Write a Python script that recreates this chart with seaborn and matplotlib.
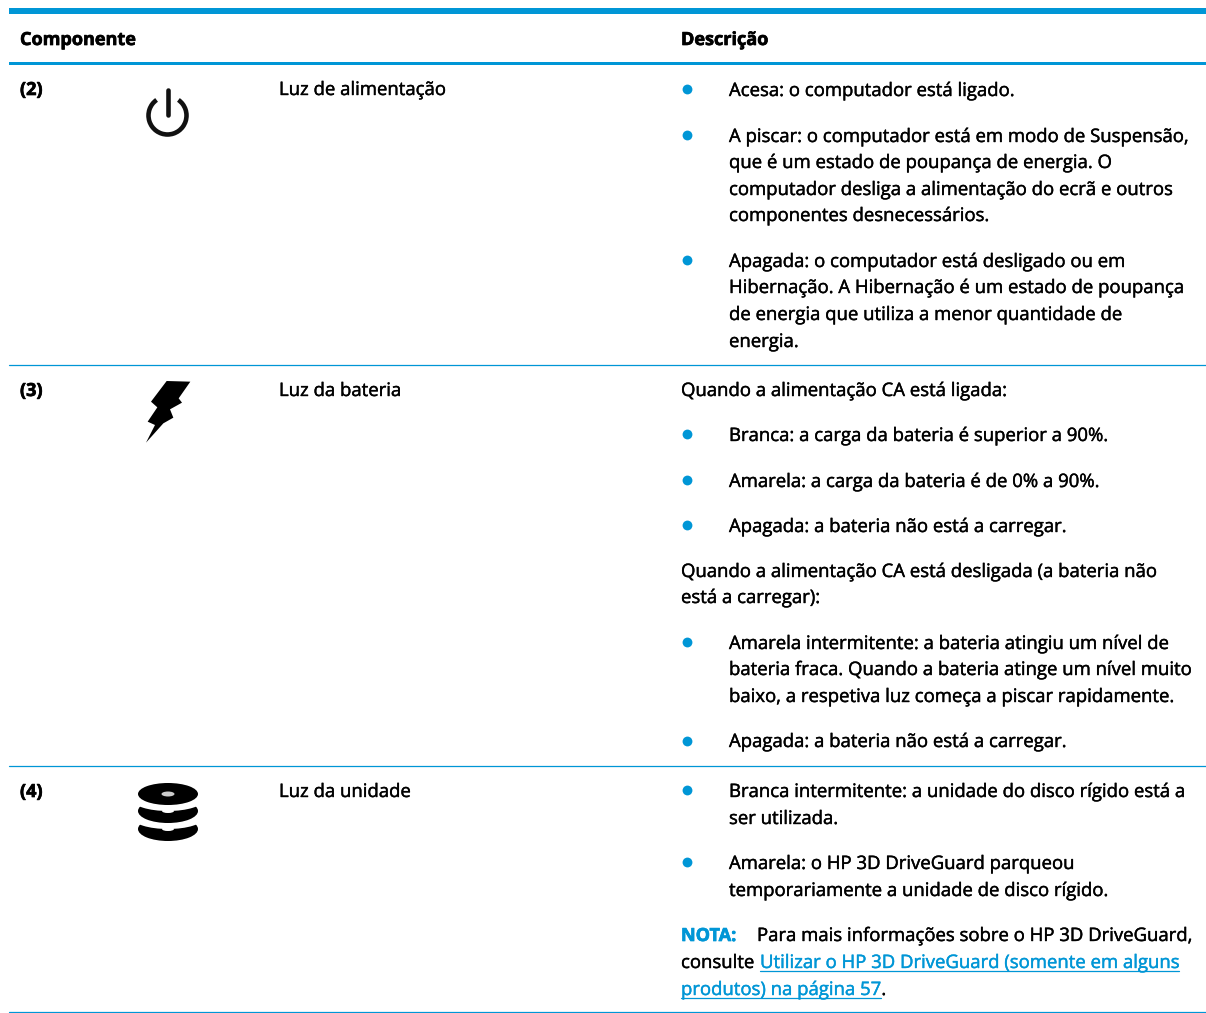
import matplotlib
matplotlib.use("Agg")
import matplotlib.patheffects as pe
import matplotlib.pyplot as plt
import pandas as pd
import seaborn as sns
from matplotlib.patches import Arc, Ellipse, Polygon

BLUE = "#0096D6"
FONT = "Open Sans"
FONT_SIZE = 13.35
BOLD_SIZE = 13.0

headers = ["Componente", "Descrição"]
row_numbers = ["(2)", "(3)", "(4)"]
components = ["Luz de alimentação", "Luz da bateria", "Luz da unidade"]

# text lines of the description column, (baseline, text)
bullet_lines = [
    (96, "Acesa: o computador está ligado."),
    (142, "A piscar: o computador está em modo de Suspensão,"),
    (168, "que é um estado de poupança de energia. O"),
    (195, "computador desliga a alimentação do ecrã e outros"),
    (221, "componentes desnecessários."),
    (267, "Apagada: o computador está desligado ou em"),
    (293, "Hibernação. A Hibernação é um estado de poupança"),
    (320, "de energia que utiliza a menor quantidade de"),
    (347, "energia."),
    (441, "Branca: a carga da bateria é superior a 90%."),
    (487, "Amarela: a carga da bateria é de 0% a 90%."),
    (532, "Apagada: a bateria não está a carregar."),
    (649, "Amarela intermitente: a bateria atingiu um nível de"),
    (675, "bateria fraca. Quando a bateria atinge um nível muito"),
    (702, "baixo, a respetiva luz começa a piscar rapidamente."),
    (747, "Apagada: a bateria não está a carregar."),
    (797, "Branca intermitente: a unidade do disco rígido está a"),
    (824, "ser utilizada."),
    (869, "Amarela: o HP 3D DriveGuard parqueou"),
    (896, "temporariamente a unidade de disco rígido."),
]
plain_lines = [
    (396, "Quando a alimentação CA está ligada:"),
    (577, "Quando a alimentação CA está desligada (a bateria não"),
    (603, "está a carregar):"),
]
bullet_rows = [89, 135, 260, 434, 480, 525, 642, 741, 790, 862]

note_label = "NOTA:"
note_text = "Para mais informações sobre o HP 3D DriveGuard,"
note_prefix = "consulte"
link_lines = ["Utilizar o HP 3D DriveGuard (somente em alguns", "produtos) na página 57"]


def put(ax, x, y, text, color="black", bold=False):
    # thin stroke because the original face is heavier than Open Sans
    stroke = 0.5 if bold else 0.3
    return ax.text(x, y, text, family=FONT, fontsize=BOLD_SIZE if bold else FONT_SIZE,
                   fontweight="bold" if bold else "normal", va="baseline", color=color,
                   path_effects=[pe.withStroke(linewidth=stroke, foreground=color)])


def underlined(ax, fig, x, y, text):
    t = put(ax, x, y, text, color=BLUE)
    box = t.get_window_extent(fig.canvas.get_renderer())
    ax.plot([x, x + box.width], [y + 3, y + 3], color=BLUE, lw=0.9)
    return x + box.width


def draw_icons(ax):
    # power
    ax.add_patch(Arc((167.5, 115.5), 38, 38, theta1=305, theta2=595, color="#111111", lw=3.3))
    ax.plot([167.5, 167.5], [90, 115], color="#111111", lw=3.3, solid_capstyle="round")
    # bolt
    pts = [(140, 33), (211, 35), (176, 85), (186, 98), (150, 118), (160, 143), (130, 160),
           (78, 218), (105, 165), (83, 155), (112, 112), (93, 95)]
    ax.add_patch(Polygon([(120 + a / 3, 370 + b / 3) for a, b in pts], fc="black", ec="none"))
    # disk stack, drawn bottom to top
    for cy in [829, 811]:
        ax.add_patch(Ellipse((168, cy), 60, 24, fc="black", ec="none"))
        ax.add_patch(Ellipse((168, cy - 11), 70, 22, fc="white", ec="none"))
        ax.add_patch(Ellipse((168, cy), 12, 4, fc="white", ec="none"))
    ax.add_patch(Ellipse((168, 794), 60, 22, fc="black", ec="none"))
    ax.add_patch(Ellipse((168, 794), 13, 5, fc="#cccccc", ec="none"))


def main():
    sns.set_theme(style="white")
    fig = plt.figure(figsize=(12.06, 10.13), dpi=100)
    ax = fig.add_axes([0, 0, 1, 1])
    ax.set_xlim(0, 1206)
    ax.set_ylim(1013, 0)
    ax.axis("off")

    # rules
    ax.fill_between([8.5, 1206], 8, 14, color=BLUE, lw=0)
    ax.fill_between([8.5, 1206], 62, 65, color=BLUE, lw=0)
    for y in [364.5, 766, 1012]:
        ax.plot([8.5, 1206], [y, y], color=BLUE, lw=0.9)

    put(ax, 20, 45, headers[0], bold=True)
    put(ax, 681, 45, headers[1], bold=True)
    for y, num, comp in zip([95, 396, 797], row_numbers, components):
        put(ax, 20, y, num, bold=True)
        put(ax, 279, y, comp)

    for y, line in bullet_lines:
        put(ax, 729, y, line)
    for y, line in plain_lines:
        put(ax, 681, y, line)

    bullets = pd.DataFrame({"x": [687] * len(bullet_rows), "y": bullet_rows})
    sns.scatterplot(data=bullets, x="x", y="y", ax=ax, color=BLUE, s=50, linewidth=0, legend=False)
    ax.set_xlim(0, 1206)
    ax.set_ylim(1013, 0)

    put(ax, 681, 941, note_label, color=BLUE, bold=True)
    put(ax, 757, 941, note_text)
    put(ax, 681, 968, note_prefix)
    underlined(ax, fig, 760, 968, link_lines[0])
    end = underlined(ax, fig, 681, 995, link_lines[1])
    put(ax, end, 995, ".")

    draw_icons(ax)
    fig.savefig("out.png", dpi=100, facecolor="white")


if __name__ == "__main__":
    main()
